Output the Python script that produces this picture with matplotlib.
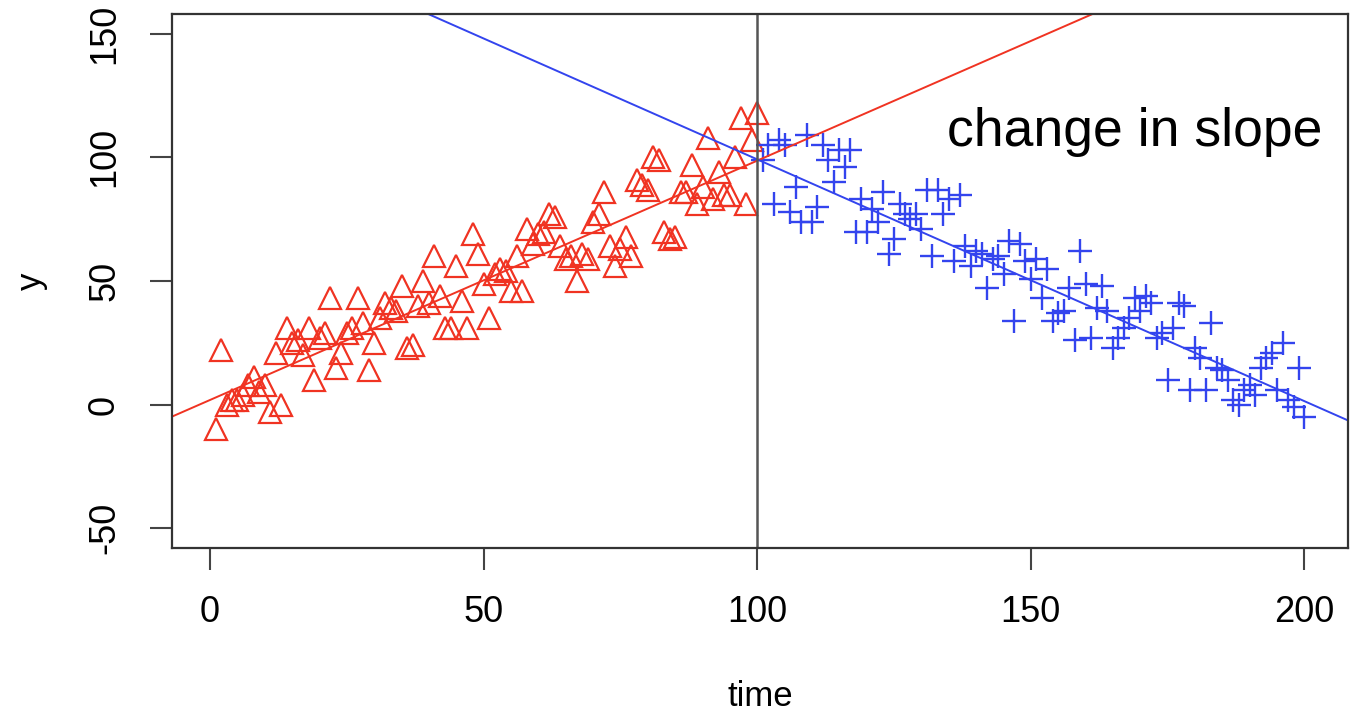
import numpy as np
import matplotlib.pyplot as plt

plt.rcParams['font.family'] = ['Liberation Sans', 'DejaVu Sans']
plt.rcParams['axes.unicode_minus'] = False

# first regime: time 1..100, rising
time_before = np.arange(1, 101)
y_before = [
    -10, 22, 0, 2, 2, 4, 8, 11, 5, 8,
    -3, 21, 0, 31, 25, 26, 20, 31, 10, 27,
    29, 43, 15, 21, 29, 31, 43, 33, 14, 25,
    35, 41, 39, 38, 48, 23, 24, 40, 50, 41,
    60, 44, 31, 31, 56, 42, 31, 69, 61, 49,
    35, 53, 55, 54, 46, 60, 46, 71, 65, 69,
    70, 77, 76, 64, 59, 60, 50, 61, 59, 74,
    77, 86, 64, 56, 63, 68, 60, 91, 89, 87,
    100, 99, 70, 67, 68, 86, 86, 97, 81, 88,
    108, 83, 94, 85, 85, 100, 116, 81, 107, 118,
]

# second regime: time 101..200, falling
time_after = np.arange(101, 201)
y_after = [
    99, 105, 81, 107, 105, 78, 88, 74, 109, 74,
    80, 105, 99, 90, 103, 96, 103, 70, 83, 70,
    79, 74, 86, 61, 67, 81, 77, 75, 77, 71,
    87, 60, 87, 77, 83, 58, 85, 64, 56, 62,
    61, 47, 59, 60, 53, 66, 34, 65, 58, 51,
    59, 43, 55, 34, 37, 38, 47, 26, 62, 49,
    27, 39, 48, 38, 23, 27, 31, 35, 43, 38,
    44, 41, 27, 29, 10, 31, 41, 40, 6, 23,
    19, 6, 33, 15, 14, 10, 2, 0, 6, 8,
    4, 15, 19, 21, 6, 25, 2, -1, 15, -5,
]

# fitted lines (intercept, slope)
fit_before = (1.9, 0.968)
fit_after = (197.0, -0.978)
break_time = 100

red = '#f03322'
blue = '#3344ee'

fig = plt.figure(figsize=(13.63, 7.16), dpi=100)
ax = fig.add_axes([0.1262, 0.2346, 0.8628, 0.7458])

ax.plot(time_before, y_before, linestyle='none', marker='^', ms=16,
        mfc='none', mec=red, mew=1.6)
ax.plot(time_after, y_after, linestyle='none', marker='+', ms=17,
        mec=blue, mew=1.7)

ax.axline((0, fit_before[0]), slope=fit_before[1], color=red, lw=1.4)
ax.axline((0, fit_after[0]), slope=fit_after[1], color=blue, lw=1.4)
ax.axvline(break_time, color='#555555', lw=1.8)

ax.text(0.978, 0.78, 'change in slope', transform=ax.transAxes,
        ha='right', va='center', fontsize=38.5)

# R-style axes: 4% padding, outward ticks
ax.set_xlim(1 - 0.04 * 199, 200 + 0.04 * 199)
ax.set_ylim(-58, 158)
ax.set_xticks([0, 50, 100, 150, 200])
ax.set_yticks([-50, 0, 50, 100, 150])
ax.tick_params(direction='out', length=16, width=1.5, color='#444444',
               labelsize=26, pad=18)
plt.setp(ax.get_yticklabels(), rotation=90, va='center')
ax.tick_params(axis='y', pad=20)
for s in ax.spines.values():
    s.set_color('#333333')
    s.set_linewidth(1.6)

ax.set_xlabel('time', fontsize=25, labelpad=36)
ax.set_ylabel('y', fontsize=25, labelpad=28)

fig.savefig('out.png', dpi=100)
